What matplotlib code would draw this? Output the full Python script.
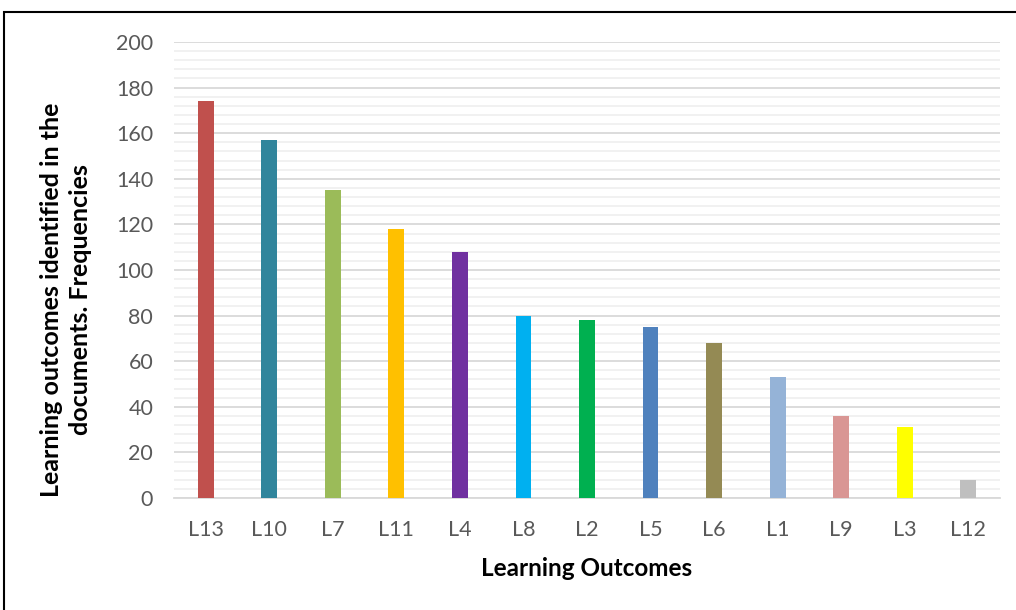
import numpy as np
import matplotlib.pyplot as plt
from matplotlib.patches import Rectangle

plt.rcParams['font.family'] = ['Lato', 'DejaVu Sans']

# Data
outcomes = ["L13", "L10", "L7", "L11", "L4", "L8", "L2", "L5", "L6", "L1", "L9", "L3", "L12"]
frequencies = [174, 157, 135, 118, 108, 80, 78, 75, 68, 53, 36, 31, 8]
colors = ["#C0504D", "#31859C", "#9BBB59", "#FFC000", "#7030A0", "#00B0F0", "#00B050",
          "#4F81BD", "#948A54", "#95B3D7", "#D99694", "#FFFF00", "#BFBFBF"]

fig = plt.figure(figsize=(10.16, 6.10), dpi=100)
ax = fig.add_axes([174/1016, 1 - 498/610, (1000-174)/1016, (498-42)/610])

# frame around the chart (cut off on right and bottom like the page crop)
fig.patches.append(Rectangle((4/1016, -0.1), 1.2, 1 - 12/610 + 0.1, transform=fig.transFigure,
                             fill=False, edgecolor='black', linewidth=1.5))

x = np.arange(len(outcomes))
ax.bar(x, frequencies, width=0.25, color=colors, zorder=3)

ax.set_xlim(-0.5, len(outcomes) - 0.5)
ax.set_ylim(0, 200)
ax.set_yticks(np.arange(0, 201, 20))
ax.set_yticks(np.arange(0, 201, 4), minor=True)
ax.grid(axis='y', which='major', color='#D9D9D9', linewidth=1.3, zorder=0)
ax.grid(axis='y', which='minor', color='#F0F0F0', linewidth=1.3, zorder=0)
ax.set_xticks(x)
ax.set_xticklabels(outcomes)
ax.tick_params(axis='both', which='both', length=0, labelsize=15.5, labelcolor='#595959')
ax.tick_params(axis='x', pad=16)
ax.tick_params(axis='y', pad=15)
for s in ['top', 'right', 'left']:
    ax.spines[s].set_visible(False)
ax.spines['bottom'].set_color('#D9D9D9')
ax.spines['bottom'].set_linewidth(1.3)

ax.set_xlabel("Learning Outcomes", fontsize=17.5, fontweight='bold', labelpad=12)
fig.text(66/1016, 1 - 300/610, "Learning outcomes identified in the\ndocuments. Frequencies",
         rotation=90, ha='center', va='center', multialignment='center',
         fontsize=18, fontweight='bold', linespacing=1.3)

plt.savefig("out.png", dpi=100)
